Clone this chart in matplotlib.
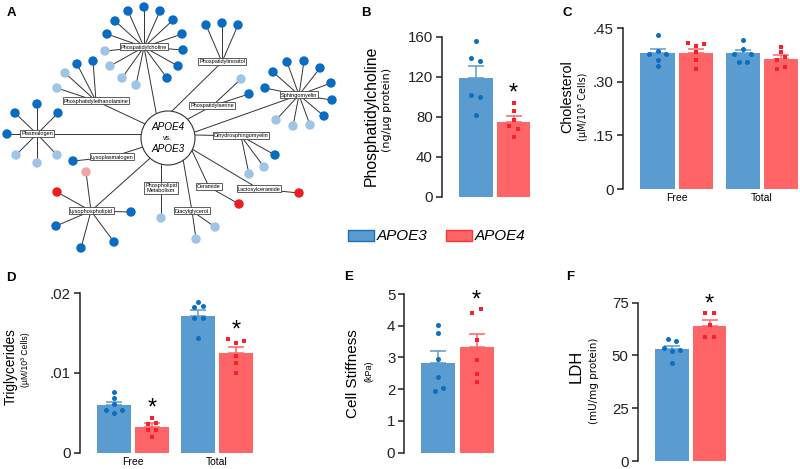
import matplotlib
matplotlib.use('Agg')
import matplotlib.pyplot as plt
from matplotlib.patches import Circle, Rectangle
import numpy as np

plt.rcParams['font.family'] = ['Liberation Sans', 'DejaVu Sans']

W, H = 800, 469
fig = plt.figure(figsize=(8, 4.69), dpi=100)

# ======================= DATA =======================
groups = ['APOE3', 'APOE4']
xcats = ['Free', 'Total']

# B: Phosphatidylcholine (ng/ug protein)
pc_mean = [118.5, 74.8]
pc_sem = [12.3, 5.5]
pc_apoe3 = [155.7, 138.7, 135.3, 101.3, 99.3, 82.0]
pc_apoe4 = [93.7, 85.3, 77.0, 70.3, 68.0, 59.3]

# C: Cholesterol (uM/10^3 cells)
chol_mean_apoe3 = [0.380, 0.380]
chol_mean_apoe4 = [0.381, 0.364]
chol_sem_apoe3 = [0.012, 0.009]
chol_sem_apoe4 = [0.012, 0.010]
chol_free_apoe3 = [0.431, 0.387, 0.378, 0.378, 0.360, 0.344]
chol_free_apoe4 = [0.408, 0.400, 0.405, 0.383, 0.361, 0.335]
chol_total_apoe3 = [0.417, 0.392, 0.378, 0.378, 0.356, 0.356]
chol_total_apoe4 = [0.398, 0.384, 0.369, 0.361, 0.342, 0.336]

# D: Triglycerides (uM/10^3 cells)
tg_mean_apoe3 = [0.0060, 0.0172]
tg_mean_apoe4 = [0.0032, 0.01255]
tg_sem_apoe3 = [0.0004, 0.0007]
tg_sem_apoe4 = [0.00056, 0.00075]
tg_free_apoe3 = [0.0076, 0.0069, 0.0061, 0.0054, 0.0050, 0.0053]
tg_free_apoe4 = [0.00439, 0.0036, 0.00376, 0.00285, 0.00285, 0.0020]
tg_total_apoe3 = [0.01895, 0.0183, 0.0184, 0.01686, 0.01686, 0.01435]
tg_total_apoe4 = [0.01423, 0.01405, 0.0138, 0.01213, 0.01121, 0.01004]

# E: Cell stiffness (kPa)
stiff_mean = [2.84, 3.34]
stiff_sem = [0.37, 0.41]
stiff_apoe3 = [4.02, 3.76, 2.94, 2.38, 1.95, 2.04]
stiff_apoe4 = [4.39, 4.52, 3.55, 2.92, 2.48, 2.24]

# F: LDH (mU/mg protein)
ldh_mean = [52.9, 64.1]
ldh_sem = [1.7, 2.7]
ldh_apoe3 = [57.7, 56.7, 53.7, 52.6, 52.3, 46.3]
ldh_apoe4 = [70.0, 70.0, 64.3, 58.6, 58.6]

# A: lipid network (node layout, pixel units)
center_lines = ['APOE4', 'vs.', 'APOE3']
hub_names = ['Phospatidylcholine', 'Phospatidylinositol', 'Phosphatidylethanolamine',
             'Phospatidylserine', 'Sphingomyelin', 'Plasmalogen', 'Dihydrosphingomyelin',
             'Lysoplasmalogen', 'Phospholipid\nMetabolism', 'Ceramide', 'Lactosylceramide',
             'Lysophospholipid', 'Diacylglycerol']
hub_xy = [(144, 47), (222, 62), (96, 101), (212, 106), (299, 95), (37, 134), (241, 136),
          (112, 157), (161, 188), (209, 187), (259, 189), (91, 211), (192, 211)]
hub_anchor = [(156, 112), (170, 113), (143, 123), (188, 119), (195, 132), (141, 134), (196, 135),
              (143, 147), (161, 165), (195, 157), (192, 149), (148, 160), (183, 159)]
leaf_xy = [
    [(115, 21), (128, 11), (144, 7), (160, 11), (173, 20), (182, 34), (183, 50), (178, 66), (167, 78),
     (107, 34), (105, 51), (110, 66), (122, 78), (136, 85)],
    [(206, 25), (222, 23), (238, 25)],
    [(57, 88), (65, 73), (77, 64), (93, 61)],
    [(241, 79), (249, 94)],
    [(265, 88), (273, 72), (287, 62), (304, 61), (320, 68), (331, 83), (332, 100), (324, 116),
     (276, 120), (293, 126), (310, 125)],
    [(15, 113), (37, 104), (58, 113), (7, 134), (16, 155), (37, 163), (57, 155)],
    [(275, 155), (264, 167), (249, 174)],
    [(73, 161)],
    [(161, 218)],
    [(239, 204)],
    [(299, 193)],
    [(86, 172), (57, 192), (131, 212), (56, 226), (81, 248), (114, 242)],
    [(215, 227), (196, 239)],
]
leaf_kind = ['DDDDDDDDDDLLLL', 'DDD', 'LLDD', 'LD', 'DDDDDDDDLLL', 'DDDDLLL', 'DLL', 'D', 'L', 'R', 'R',
             'PRDDDD', 'LL']

# ======================= STYLE =======================
BLUE = '#5a9bd0'
RED = '#ff6467'
DOT_BLUE = '#0b6fc2'
DOT_RED = '#f5222d'
AXC = '#222222'
node_col = {'D': '#0a6cc0', 'L': '#9fc5e6', 'R': '#ee1c24', 'P': '#f2a3a8'}

# overlay axes in pixel coordinates (network, labels, legend)
ax0 = fig.add_axes([0, 0, 1, 1])
ax0.set_xlim(0, W)
ax0.set_ylim(H, 0)
ax0.axis('off')

# ---------- Panel A ----------
cx, cy, cr = 168, 138, 27
for name, (hx, hy), (axx, ayy), leaves, kinds in zip(hub_names, hub_xy, hub_anchor, leaf_xy, leaf_kind):
    d = np.array([axx - hx, ayy - hy], float)
    d /= np.hypot(*d)
    ex, ey = axx + d[0] * 14, ayy + d[1] * 14
    ax0.plot([hx, ex], [hy, ey], color='#333333', lw=0.7, zorder=1)
    for (lx, ly), k in zip(leaves, kinds):
        ax0.plot([hx, lx], [hy, ly], color='#333333', lw=0.7, zorder=1)
        ax0.add_patch(Circle((lx, ly), 4.7, facecolor=node_col[k], edgecolor='none', zorder=2))
    ax0.text(hx, hy, name, fontsize=4, ha='center', va='center', zorder=5, linespacing=1.1,
             bbox=dict(boxstyle='square,pad=0.18', fc='white', ec='#444444', lw=0.6))
ax0.add_patch(Circle((cx, cy), cr, facecolor='white', edgecolor='#333333', lw=0.8, zorder=4))
ax0.text(cx, cy - 11, center_lines[0], fontsize=7.2, style='italic', ha='center', va='center', zorder=6)
ax0.text(cx, cy, center_lines[1], fontsize=5, ha='center', va='center', zorder=6)
ax0.text(cx, cy + 11, center_lines[2], fontsize=7.2, style='italic', ha='center', va='center', zorder=6)

# panel letters
for lab, (px, py) in zip('ABCDEF', [(11, 13), (366, 13), (567, 13), (11, 278), (349, 277), (570, 277)]):
    ax0.text(px, py, lab, fontsize=9.5, fontweight='bold', ha='center', va='center')

# legend
for lab, fc, ec, rx, tx in zip(groups, [BLUE, RED], ['#1f6fb5', '#ff3535'], [348, 446], [377, 475]):
    ax0.add_patch(Rectangle((rx, 230), 26, 11, facecolor=fc, edgecolor=ec, lw=1.0))
    ax0.text(tx, 236, lab, fontsize=11, style='italic', ha='left', va='center')


# ---------- bar panels ----------
def make_axes(x_spine, x_right, y_top, y_zero, left, pitch, ymax, yticks, ylabels):
    ax = fig.add_axes([x_spine / W, 1 - y_zero / H, (x_right - x_spine) / W, (y_zero - y_top) / H])
    ax.set_xlim(left, left + (x_right - x_spine) / pitch)
    ax.set_ylim(0, ymax)
    ax.patch.set_visible(False)
    for s in ['top', 'right', 'bottom']:
        ax.spines[s].set_visible(False)
    ax.spines['left'].set_linewidth(1.1)
    ax.spines['left'].set_color(AXC)
    ax.spines['left'].set_bounds(0, ymax)
    ax.set_yticks(yticks)
    ax.set_yticklabels(ylabels, fontsize=10.8)
    ax.tick_params(axis='y', direction='out', length=4.5, width=1.1, pad=2, colors=AXC)
    ax.tick_params(axis='x', length=0, labelsize=7.5, pad=3)
    ax.set_xticks([])
    return ax


BW = 0.89


def draw_bar(ax, x, mean, sem, pts, offs, color, dcol, marker):
    ax.bar(x, mean, width=BW, color=color, zorder=1)
    ax.errorbar([x], [mean], yerr=[[0], [sem]], fmt='none', ecolor=color, elinewidth=1.1,
                capsize=6, capthick=1.1, zorder=2)
    ax.scatter(x + np.array(offs), pts, s=13 if marker == 'o' else 12, marker=marker, color=dcol,
               linewidths=0, zorder=3, clip_on=False)


def star(ax, x, pts, ymax):
    y = max(pts) + 0.105 * ymax
    ax.annotate('*', (x, y), xytext=(0, -0.58 * 17), textcoords='offset points',
                ha='center', va='baseline', fontsize=17, annotation_clip=False)


def ylab(x, y, txt, fs, fam=None):
    kw = {} if fam is None else {'family': fam}
    ax0.text(x, y, txt, rotation=90, fontsize=fs, ha='center', va='center', **kw)


WIDE = ['DejaVu Sans']

# B
axB = make_axes(441.7, 545, 36.7, 196.7, -0.915, 37.5, 160, [0, 40, 80, 120, 160],
                ['0', '40', '80', '120', '160'])
draw_bar(axB, 0, pc_mean[0], pc_sem[0], pc_apoe3, [0, -0.13, 0.1, -0.13, 0.1, 0], BLUE, DOT_BLUE, 'o')
draw_bar(axB, 1, pc_mean[1], pc_sem[1], pc_apoe4, [0, 0, 0, -0.13, 0.12, 0], RED, DOT_RED, 's')
star(axB, 1, pc_apoe4, 160)
ylab(371.5, 116, 'Phosphatidylcholine', 11.3)
ylab(387.5, 110, '(ng/µg protein)', 8, WIDE)

# C
GAP = 2.22
axC = make_axes(623, 800, 28.3, 189, -1.40, 38.4, 0.45, [0, 0.15, 0.30, 0.45],
                ['0', '.15', '.30', '.45'])
draw_bar(axC, -0.5, chol_mean_apoe3[0], chol_sem_apoe3[0], chol_free_apoe3, [0, 0, -.22, .22, 0, 0], BLUE, DOT_BLUE, 'o')
draw_bar(axC, 0.5, chol_mean_apoe4[0], chol_sem_apoe4[0], chol_free_apoe4, [-.22, 0, .22, 0, 0, 0], RED, DOT_RED, 's')
draw_bar(axC, GAP - 0.5, chol_mean_apoe3[1], chol_sem_apoe3[1], chol_total_apoe3, [0, 0, -.22, .22, -.11, .11], BLUE, DOT_BLUE, 'o')
draw_bar(axC, GAP + 0.5, chol_mean_apoe4[1], chol_sem_apoe4[1], chol_total_apoe4, [0, 0, .11, -.11, .11, -.11], RED, DOT_RED, 's')
axC.set_xticks([0, GAP])
axC.set_xticklabels(xcats)
ylab(567, 97, 'Cholesterol', 10.3)
ylab(583, 107, '(µM/10³ Cells)', 7, WIDE)

# D
axD = make_axes(80, 265, 293.3, 452.7, -1.40, 37.9, 0.02, [0, 0.01, 0.02], ['0', '.01', '.02'])
draw_bar(axD, -0.5, tg_mean_apoe3[0], tg_sem_apoe3[0], tg_free_apoe3, [0, 0, 0, -.22, 0, .22], BLUE, DOT_BLUE, 'o')
draw_bar(axD, 0.5, tg_mean_apoe4[0], tg_sem_apoe4[0], tg_free_apoe4, [0, -.11, .11, -.11, .11, 0], RED, DOT_RED, 's')
draw_bar(axD, GAP - 0.5, tg_mean_apoe3[1], tg_sem_apoe3[1], tg_total_apoe3, [0, -.12, .12, -.12, .12, 0], BLUE, DOT_BLUE, 'o')
draw_bar(axD, GAP + 0.5, tg_mean_apoe4[1], tg_sem_apoe4[1], tg_total_apoe4, [-.22, .22, 0, 0, 0, 0], RED, DOT_RED, 's')
star(axD, 0.5, tg_free_apoe4, 0.02)
star(axD, GAP + 0.5, tg_total_apoe4, 0.02)
axD.set_xticks([0, GAP])
axD.set_xticklabels(xcats)
ylab(11, 367, 'Triglycerides', 9.8)
ylab(25, 360, '(µM/10³ Cells)', 6.2)

# E
axE = make_axes(404.3, 500, 294, 452.7, -0.895, 38.2, 5, [0, 1, 2, 3, 4, 5],
                ['0', '1', '2', '3', '4', '5'])
draw_bar(axE, 0, stiff_mean[0], stiff_sem[0], stiff_apoe3, [0, 0, 0, 0, -.1, .12], BLUE, DOT_BLUE, 'o')
draw_bar(axE, 1, stiff_mean[1], stiff_sem[1], stiff_apoe4, [-.11, .11, 0, 0, 0, 0], RED, DOT_RED, 's')
star(axE, 1, stiff_apoe4, 5)
ylab(353, 374, 'Cell Stiffness', 11)
ylab(369, 371, '(kPa)', 6.5)

# F
axF = make_axes(637.7, 735, 302.7, 461, -0.91, 37.7, 75, [0, 25, 50, 75], ['0', '25', '50', '75'])
draw_bar(axF, 0, ldh_mean[0], ldh_sem[0], ldh_apoe3, [-.11, .11, -.22, .22, 0, 0], BLUE, DOT_BLUE, 'o')
draw_bar(axF, 1, ldh_mean[1], ldh_sem[1], ldh_apoe4, [-.12, .12, 0, -.12, .12], RED, DOT_RED, 's')
star(axF, 1, ldh_apoe4, 75)
ylab(576, 366, 'LDH', 12)
ylab(594, 381, '(mU/mg protein)', 7.5, WIDE)

fig.savefig('out.png', dpi=100)
